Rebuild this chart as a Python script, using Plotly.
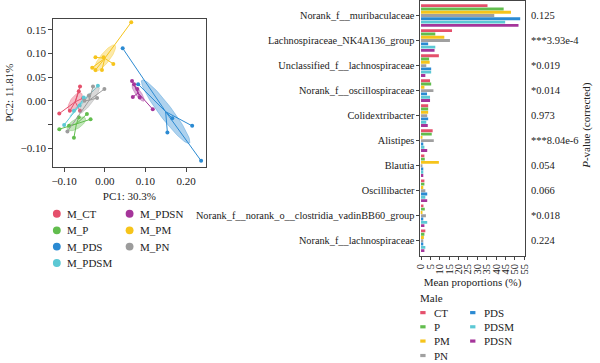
import numpy as np
import plotly.graph_objects as go

W, H = 600, 363
def PX(px): return px / W
def PY(py): return 1 - py / H

FONT = "Liberation Serif"

# ---------------- PCA data ----------------
groups = ["M_CT", "M_P", "M_PDS", "M_PDSM", "M_PDSN", "M_PM", "M_PN"]
group_colors = ["#E5506C", "#62BD4E", "#2B8AD2", "#5CC8D4", "#A5359A", "#F6C41B", "#9C9C9C"]
pc1 = {
    "M_CT":   [-0.112, -0.061, -0.064, -0.086, -0.061, -0.053],
    "M_P":    [-0.112, -0.076, -0.044, -0.035, -0.064, -0.088],
    "M_PDS":  [0.044, 0.082, 0.166, 0.154, 0.215, 0.237],
    "M_PDSM": [-0.017, -0.100, -0.076, -0.052, -0.062],
    "M_PDSN": [0.067, 0.072, 0.069, 0.086, 0.118, 0.080],
    "M_PM":   [0.065, -0.023, -0.003, -0.031, -0.023, -0.007, 0.021],
    "M_PN":   [-0.029, -0.001, -0.019, -0.092, -0.039, -0.050],
}
pc2 = {
    "M_CT":   [-0.027, 0.030, 0.020, -0.021, -0.021, 0.006],
    "M_P":    [-0.060, -0.078, -0.028, -0.039, -0.035, -0.053],
    "M_PDS":  [0.111, 0.035, -0.037, -0.067, -0.053, -0.127],
    "M_PDSM": [0.032, -0.051, -0.021, 0.007, -0.010],
    "M_PDSN": [0.042, 0.035, 0.008, 0.007, -0.018, 0.025],
    "M_PM":   [0.166, 0.092, 0.092, 0.070, 0.065, 0.065, 0.078],
    "M_PN":   [0.030, 0.025, 0.006, -0.065, 0.011, 0.000],
}
pca_xticks = [-0.10, 0.00, 0.10, 0.20]
pca_xticktext = ["\u22120.10", "0.00", "0.10", "0.20"]
pca_yticks = [-0.10, -0.05, 0.00, 0.05, 0.10, 0.15]
pca_yticktext = ["\u22120.10", "", "0.00", "0.05", "0.10", "0.15"]

# ---------------- Bar data ----------------
taxa = [
    "Norank_f__muribaculaceae",
    "Lachnospiraceae_NK4A136_group",
    "Unclassified_f__lachnospiraceae",
    "Norank_f__oscillospiraceae",
    "Colidextribacter",
    "Alistipes",
    "Blautia",
    "Oscillibacter",
    "Norank_f__norank_o__clostridia_vadinBB60_group",
    "Norank_f__lachnospiraceae",
]
pvals = ["0.125", "***3.93e-4", "*0.019", "*0.014", "0.973", "***8.04e-6",
         "0.054", "0.066", "*0.018", "0.224"]
series = ["CT", "P", "PM", "PN", "PDS", "PDSM", "PDSN"]
series_colors = ["#E5506C", "#62BD4E", "#F6C41B", "#A0A0A0", "#2B8AD2", "#5CC8D4", "#A5359A"]
values = {
    "CT":   [35.4, 16.5, 9.5, 4.8, 3.8, 6.2, 1.8, 1.8, 1.3, 2.3],
    "P":    [44.0, 7.6, 4.3, 5.4, 3.8, 5.7, 2.0, 1.8, 2.0, 1.8],
    "PM":   [47.9, 12.4, 4.6, 1.8, 3.8, 0.3, 9.5, 1.2, 0.5, 1.5],
    "PN":   [39.0, 15.4, 2.8, 6.6, 3.3, 6.8, 0.5, 2.3, 2.6, 1.2],
    "PDS":  [52.8, 3.8, 5.4, 3.2, 3.8, 1.2, 1.2, 3.3, 1.2, 1.2],
    "PDSM": [44.8, 7.6, 5.4, 4.8, 2.8, 1.8, 1.2, 2.3, 3.3, 2.3],
    "PDSN": [51.9, 7.2, 2.3, 4.8, 3.6, 3.3, 1.2, 3.3, 1.8, 1.8],
}
bar_xticks = list(range(0, 56, 5))

fig = go.Figure()

def rgba(hexc, a):
    h = hexc.lstrip("#")
    return "rgba(%d,%d,%d,%.2f)" % (int(h[0:2], 16), int(h[2:4], 16), int(h[4:6], 16), a)

# PCA traces
for g, col in zip(groups, group_colors):
    xs = np.array(pc1[g]); ys = np.array(pc2[g])
    cx, cy = xs.mean(), ys.mean()
    cov = np.cov(np.vstack([xs, ys]))
    vals, vecs = np.linalg.eigh(cov)
    k = 0.8
    t = np.linspace(0, 2 * np.pi, 80)
    circ = np.vstack([np.cos(t), np.sin(t)])
    ell = vecs @ (np.sqrt(np.maximum(vals, 0))[:, None] * k * circ)
    fig.add_trace(go.Scatter(x=cx + ell[0], y=cy + ell[1], mode="lines", fill="toself",
                             fillcolor=rgba(col, 0.38), line=dict(color=rgba(col, 0.6), width=0.6),
                             xaxis="x", yaxis="y", showlegend=False, hoverinfo="skip"))
    sx, sy = [], []
    for a, b in zip(xs, ys):
        sx += [cx, a, None]; sy += [cy, b, None]
    fig.add_trace(go.Scatter(x=sx, y=sy, mode="lines", line=dict(color=col, width=1),
                             xaxis="x", yaxis="y", showlegend=False, hoverinfo="skip"))
    fig.add_trace(go.Scatter(x=xs, y=ys, mode="markers", name=g,
                             marker=dict(color=col, size=4),
                             xaxis="x", yaxis="y", showlegend=False))

# Bar traces
for s, col in zip(series, series_colors):
    fig.add_trace(go.Bar(y=taxa, x=values[s], orientation="h", name=s,
                         marker=dict(color=col, line=dict(width=0)),
                         xaxis="x2", yaxis="y2", showlegend=False))

axis_font = dict(family=FONT, size=11, color="#222")
fig.update_layout(
    width=W, height=H, margin=dict(l=0, r=0, t=0, b=0),
    paper_bgcolor="white", plot_bgcolor="white",
    font=dict(family=FONT, size=11, color="#222"),
    barmode="group", bargap=0.08, bargroupgap=0.12,
    xaxis=dict(domain=[PX(49), PX(204)], range=[-0.127, 0.248], anchor="y",
               tickvals=pca_xticks, ticktext=pca_xticktext, ticks="outside", ticklen=4,
               showline=True, linecolor="#444", linewidth=1, mirror=True, showgrid=False,
               zeroline=False, tickfont=axis_font,
               title=dict(text="PC1: 30.3%", font=axis_font, standoff=6)),
    yaxis=dict(domain=[PY(166), PY(18)], range=[-0.139, 0.173], anchor="x",
               tickvals=pca_yticks, ticktext=pca_yticktext, ticks="outside", ticklen=4,
               showline=True, linecolor="#444", linewidth=1, mirror=True, showgrid=False,
               zeroline=False, tickfont=axis_font,
               title=dict(text="PC2: 11.81%", font=axis_font, standoff=4)),
    xaxis2=dict(domain=[PX(422.5), PX(528.5)], range=[-0.3, 55.2], anchor="y2",
                tickvals=bar_xticks, ticks="outside", ticklen=3, tickangle=-90,
                showline=True, linecolor="#444", linewidth=1, mirror=True, showgrid=False,
                zeroline=False, tickfont=dict(family=FONT, size=10.5, color="#222"),
                title=dict(text="Mean proportions (%)", font=axis_font, standoff=4)),
    yaxis2=dict(domain=[PY(255.5), PY(0.5)], range=[9.6, -0.56], anchor="x2",
                ticks="outside", ticklen=3, showline=True, linecolor="#444", linewidth=1,
                mirror=True, showgrid=False, zeroline=False,
                tickfont=dict(family=FONT, size=10.3, color="#222")),
)

ann = []
shapes = []
# p-values
for tx, pv in zip(taxa, pvals):
    ann.append(dict(x=PX(533), y=tx, xref="paper", yref="y2", text=pv, showarrow=False,
                    xanchor="left", yanchor="middle", font=dict(family=FONT, size=10.5, color="#222")))
ann.append(dict(x=PX(592), y=PY(125), xref="paper", yref="paper",
                text="<i>P</i>-value (corrected)", textangle=-90, showarrow=False,
                xanchor="center", yanchor="middle", font=axis_font))

# PCA legend (manual, two columns)
pca_leg_pos = [(52.7, 213.3), (52.7, 230), (52.7, 246.3), (52.7, 262.7),
               (126.7, 213.3), (126.7, 230), (126.7, 246.3)]
for (lx, ly), g, col in zip(pca_leg_pos, groups, group_colors):
    r = 4
    shapes.append(dict(type="circle", xref="paper", yref="paper",
                       x0=PX(lx - r), x1=PX(lx + r), y0=PY(ly + r), y1=PY(ly - r),
                       fillcolor=col, line=dict(width=0)))
    ann.append(dict(x=PX(lx + 8.5), y=PY(ly), xref="paper", yref="paper", text=g,
                    showarrow=False, xanchor="left", yanchor="middle", font=axis_font))

# Bar legend
ann.append(dict(x=PX(420), y=PY(298), xref="paper", yref="paper", text="Male",
                showarrow=False, xanchor="left", yanchor="middle", font=axis_font))
bar_leg_pos = [(425, 312.5), (425, 326.7), (425, 341), (425, 355.5),
               (475.7, 312.5), (475.7, 326.7), (475.7, 341)]
for (lx, ly), s, col in zip(bar_leg_pos, series, series_colors):
    shapes.append(dict(type="rect", xref="paper", yref="paper",
                       x0=PX(lx - 2.7), x1=PX(lx + 2.7), y0=PY(ly + 1.6), y1=PY(ly - 1.6),
                       fillcolor=col, line=dict(width=0)))
    ann.append(dict(x=PX(lx + 9), y=PY(ly), xref="paper", yref="paper", text=s,
                    showarrow=False, xanchor="left", yanchor="middle", font=axis_font))

fig.update_layout(annotations=ann, shapes=shapes)
fig.write_html("out.html", config={"displayModeBar": False},
               post_script="document.body.style.margin='0px';document.body.style.overflow='hidden';")
